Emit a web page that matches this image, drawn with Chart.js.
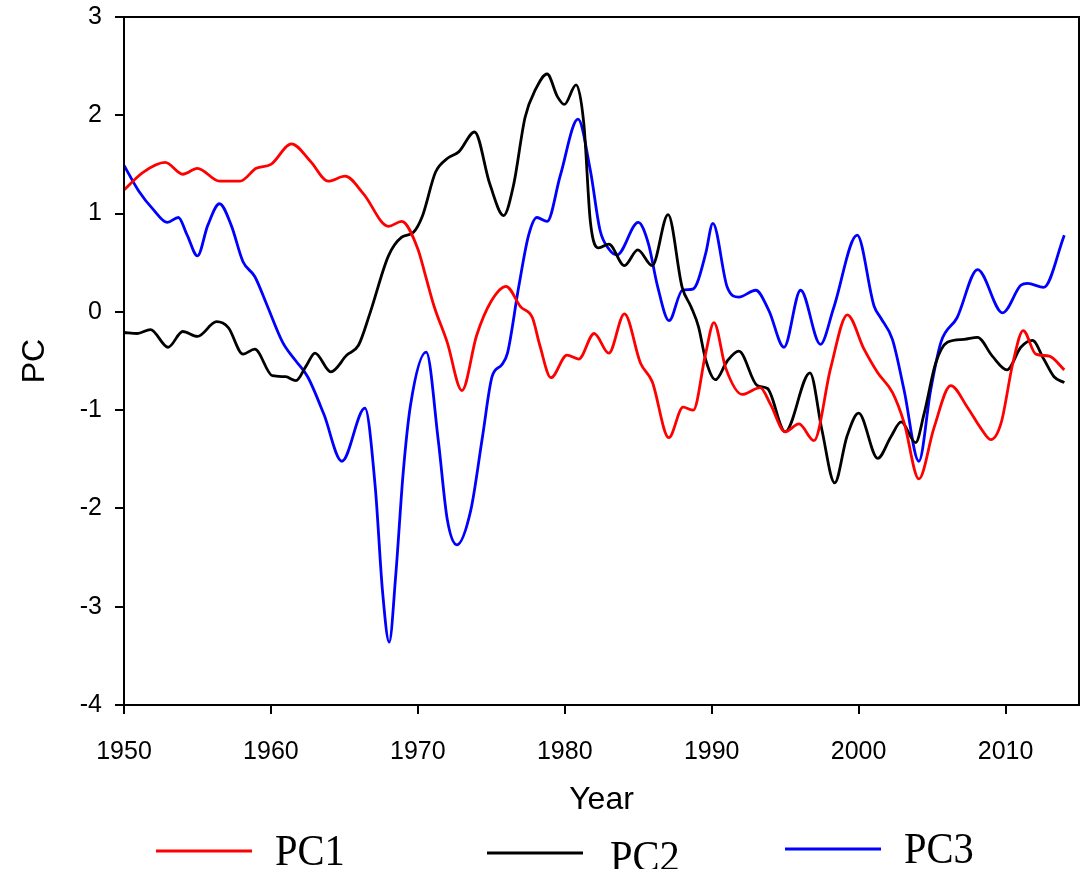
<!DOCTYPE html>
<html>
<head>
<meta charset="utf-8">
<script src="https://cdn.jsdelivr.net/npm/chart.js@4.4.0/dist/chart.umd.min.js"></script>
<style>
  body { margin: 0; background: #fff; }
  canvas { display: block; }
</style>
</head>
<body>
<canvas id="pcChart" width="1089" height="869"></canvas>
<script>
// values (year, score)
const pc1Years = [1950, 1951.3, 1952.8, 1954.0, 1955.0, 1956.5, 1957.9, 1959.0, 1960.0, 1961.4, 1962.7, 1963.9, 1965.05, 1966.3, 1968.0, 1968.9, 1970.0, 1970.5, 1971.1, 1972.0, 1973.0, 1974.0, 1975.0, 1976.0, 1977.0, 1977.8, 1978.3, 1979.06, 1980.15, 1980.95, 1982.0, 1983.0, 1984.06, 1985.15, 1985.95, 1987.08, 1988.05, 1988.75, 1989.58, 1990.15, 1990.95, 1992.08, 1993.3, 1994.0, 1995.0, 1995.94, 1996.96, 1998.1, 1999.23, 2000.37, 2001.3, 2002.3, 2003.1, 2004.1, 2005.13, 2006.27, 2007.4, 2008.3, 2009.0, 2009.7, 2010.5, 2011.2, 2012.06, 2012.97, 2014.0];
const pc1Values = [1.24, 1.42, 1.52, 1.40, 1.46, 1.33, 1.33, 1.46, 1.50, 1.71, 1.53, 1.33, 1.38, 1.20, 0.87, 0.92, 0.64, 0.38, 0.06, -0.31, -0.80, -0.24, 0.11, 0.26, 0.05, -0.06, -0.34, -0.67, -0.44, -0.48, -0.22, -0.42, -0.02, -0.52, -0.71, -1.28, -0.97, -1.00, -0.43, -0.11, -0.57, -0.84, -0.77, -0.94, -1.22, -1.14, -1.31, -0.57, -0.03, -0.38, -0.62, -0.82, -1.13, -1.70, -1.18, -0.75, -0.97, -1.18, -1.30, -1.13, -0.52, -0.19, -0.43, -0.45, -0.59];

const pc2Years = [1950, 1950.9, 1951.8, 1953.0, 1954.0, 1955.0, 1956.3, 1957.1, 1958.1, 1958.9, 1960.1, 1961.0, 1961.7, 1962.4, 1963.0, 1964.08, 1965.17, 1965.96, 1966.75, 1968.0, 1968.9, 1969.7, 1970.3, 1971.2, 1972.0, 1972.8, 1973.86, 1974.9, 1975.84, 1976.5, 1977.3, 1978.0, 1978.8, 1979.5, 1979.97, 1980.77, 1981.3, 1981.74, 1982.3, 1983.0, 1984.06, 1984.97, 1985.95, 1987.03, 1987.99, 1988.6, 1989.1, 1989.58, 1990.26, 1991.06, 1991.85, 1993.1, 1993.8, 1995.0, 1996.69, 1997.5, 1998.37, 1999.2, 2000.0, 2001.3, 2002.2, 2002.9, 2003.88, 2004.45, 2005.25, 2006.04, 2007.18, 2008.09, 2009.1, 2010.1, 2011.04, 2011.83, 2012.6, 2013.3, 2014.0];
const pc2Values = [-0.21, -0.22, -0.18, -0.36, -0.20, -0.25, -0.10, -0.16, -0.43, -0.38, -0.65, -0.66, -0.70, -0.55, -0.42, -0.61, -0.44, -0.34, -0.01, 0.57, 0.76, 0.81, 0.97, 1.42, 1.56, 1.63, 1.83, 1.30, 0.98, 1.28, 1.98, 2.26, 2.42, 2.19, 2.11, 2.31, 1.91, 0.92, 0.65, 0.69, 0.47, 0.63, 0.47, 0.99, 0.25, 0.05, -0.15, -0.48, -0.69, -0.50, -0.40, -0.75, -0.78, -1.22, -0.62, -1.20, -1.74, -1.27, -1.03, -1.49, -1.27, -1.12, -1.33, -1.04, -0.52, -0.31, -0.28, -0.26, -0.45, -0.59, -0.36, -0.29, -0.48, -0.66, -0.72];

const pc3Years = [1950, 1951.0, 1952.0, 1952.95, 1953.7, 1954.3, 1955.0, 1955.7, 1956.5, 1957.3, 1958.1, 1958.9, 1959.7, 1960.8, 1961.7, 1962.5, 1963.6, 1964.83, 1966.4, 1967.1, 1967.6, 1968.05, 1968.5, 1969.0, 1969.5, 1970.57, 1971.4, 1972.0, 1972.66, 1973.6, 1974.4, 1975.05, 1975.7, 1976.1, 1976.86, 1977.54, 1978.1, 1978.8, 1979.7, 1980.9, 1981.74, 1982.4, 1983.0, 1983.56, 1985.0, 1985.7, 1986.3, 1987.1, 1988.0, 1988.67, 1989.0, 1989.6, 1990.08, 1991.06, 1991.85, 1993.0, 1993.9, 1994.92, 1996.05, 1997.4, 1998.3, 1999.9, 2001.05, 2001.5, 2002.3, 2003.1, 2004.1, 2004.9, 2005.6, 2006.7, 2008.1, 2009.8, 2011.04, 2011.5, 2012.6, 2014.0];
const pc3Values = [1.49, 1.23, 1.04, 0.91, 0.96, 0.78, 0.57, 0.88, 1.10, 0.88, 0.51, 0.36, 0.08, -0.31, -0.50, -0.66, -1.04, -1.52, -0.98, -1.78, -2.85, -3.36, -2.67, -1.64, -0.95, -0.41, -1.32, -2.11, -2.37, -2.02, -1.27, -0.66, -0.54, -0.42, 0.25, 0.78, 0.96, 0.92, 1.39, 1.96, 1.44, 0.83, 0.64, 0.58, 0.91, 0.69, 0.27, -0.09, 0.22, 0.23, 0.29, 0.60, 0.90, 0.25, 0.15, 0.22, 0.01, -0.36, 0.22, -0.33, 0.04, 0.78, 0.06, -0.06, -0.28, -0.80, -1.52, -0.80, -0.31, -0.06, 0.43, -0.01, 0.27, 0.29, 0.25, 0.78];

const seriesNames = ["PC1", "PC2", "PC3"];
const seriesColors = ["#ff0000", "#000000", "#0000ff"];
const xTickValues = [1950, 1960, 1970, 1980, 1990, 2000, 2010];
const yTickValues = [3, 2, 1, 0, -1, -2, -3, -4];

const toPoints = (xs, ys) => xs.map((x, i) => ({ x: x, y: ys[i] }));

const sansFont = "Arial, 'Liberation Sans', sans-serif";
const serifFont = "'Times New Roman', 'Liberation Serif', serif";

// legend spots below the plot (line start/end, line y, text x, text baseline)
const legendSpots = [
    { x1: 156, x2: 252, y: 851, tx: 275, ty: 865 },
    { x1: 487, x2: 583, y: 853, tx: 610, ty: 871 },
    { x1: 785, x2: 881, y: 849, tx: 904, ty: 863 }
];

const framePlugin = {
    id: "frame",
    afterDraw(chart) {
        const { ctx, chartArea } = chart;
        ctx.save();
        ctx.strokeStyle = "#000";
        ctx.lineWidth = 2;
        ctx.strokeRect(chartArea.left, chartArea.top, chartArea.right - chartArea.left, chartArea.bottom - chartArea.top);

        chart.data.datasets.forEach((ds, i) => {
            const s = legendSpots[i];
            ctx.strokeStyle = ds.borderColor;
            ctx.lineWidth = 3;
            ctx.beginPath();
            ctx.moveTo(s.x1, s.y);
            ctx.lineTo(s.x2, s.y);
            ctx.stroke();

            ctx.save();
            ctx.translate(s.tx, s.ty);
            ctx.scale(0.9, 1);
            ctx.fillStyle = "#000";
            ctx.font = "45px " + serifFont;
            ctx.textBaseline = "alphabetic";
            ctx.fillText(ds.label, 0, 0);
            ctx.restore();
        });
        ctx.restore();
    }
};

const ctx = document.getElementById("pcChart").getContext("2d");

new Chart(ctx, {
    type: "line",
    data: {
        datasets: [
            { label: seriesNames[0], data: toPoints(pc1Years, pc1Values), borderColor: seriesColors[0] },
            { label: seriesNames[1], data: toPoints(pc2Years, pc2Values), borderColor: seriesColors[1] },
            { label: seriesNames[2], data: toPoints(pc3Years, pc3Values), borderColor: seriesColors[2] }
        ]
    },
    options: {
        responsive: false,
        animation: false,
        layout: { padding: { top: 17, right: 10, left: 0, bottom: 0 } },
        elements: {
            line: { borderWidth: 2.8, cubicInterpolationMode: "monotone", fill: false },
            point: { radius: 0 }
        },
        plugins: {
            legend: { display: false },
            tooltip: { enabled: false }
        },
        scales: {
            x: {
                type: "linear",
                min: 1950,
                max: 2015,
                afterBuildTicks: scale => { scale.ticks = xTickValues.map(v => ({ value: v })); },
                afterFit: scale => { scale.height = 164; },
                ticks: {
                    color: "#000",
                    font: { family: sansFont, size: 25 },
                    padding: 23,
                    maxRotation: 0,
                    callback: v => String(v)
                },
                grid: { drawOnChartArea: false, drawTicks: true, tickLength: 9, color: "#000", lineWidth: 2 },
                border: { display: true, color: "#000", width: 2 },
                title: {
                    display: true,
                    text: "Year",
                    color: "#000",
                    font: { family: sansFont, size: 32 },
                    padding: { top: 0, bottom: 50 }
                }
            },
            y: {
                min: -4,
                max: 3,
                afterBuildTicks: scale => { scale.ticks = yTickValues.map(v => ({ value: v })); },
                afterFit: scale => {
                    scale.width = 124;
                    scale.paddingTop = 0;
                    scale.paddingBottom = 0;
                },
                ticks: {
                    color: "#000",
                    font: { family: sansFont, size: 25 },
                    padding: 13,
                    callback: v => String(v)
                },
                grid: { drawOnChartArea: false, drawTicks: true, tickLength: 9, color: "#000", lineWidth: 2 },
                border: { display: true, color: "#000", width: 2 },
                title: {
                    display: true,
                    text: "PC",
                    color: "#000",
                    font: { family: sansFont, size: 32 },
                    padding: { top: 16, bottom: 0 }
                }
            }
        }
    },
    plugins: [framePlugin]
});
</script>
</body>
</html>
